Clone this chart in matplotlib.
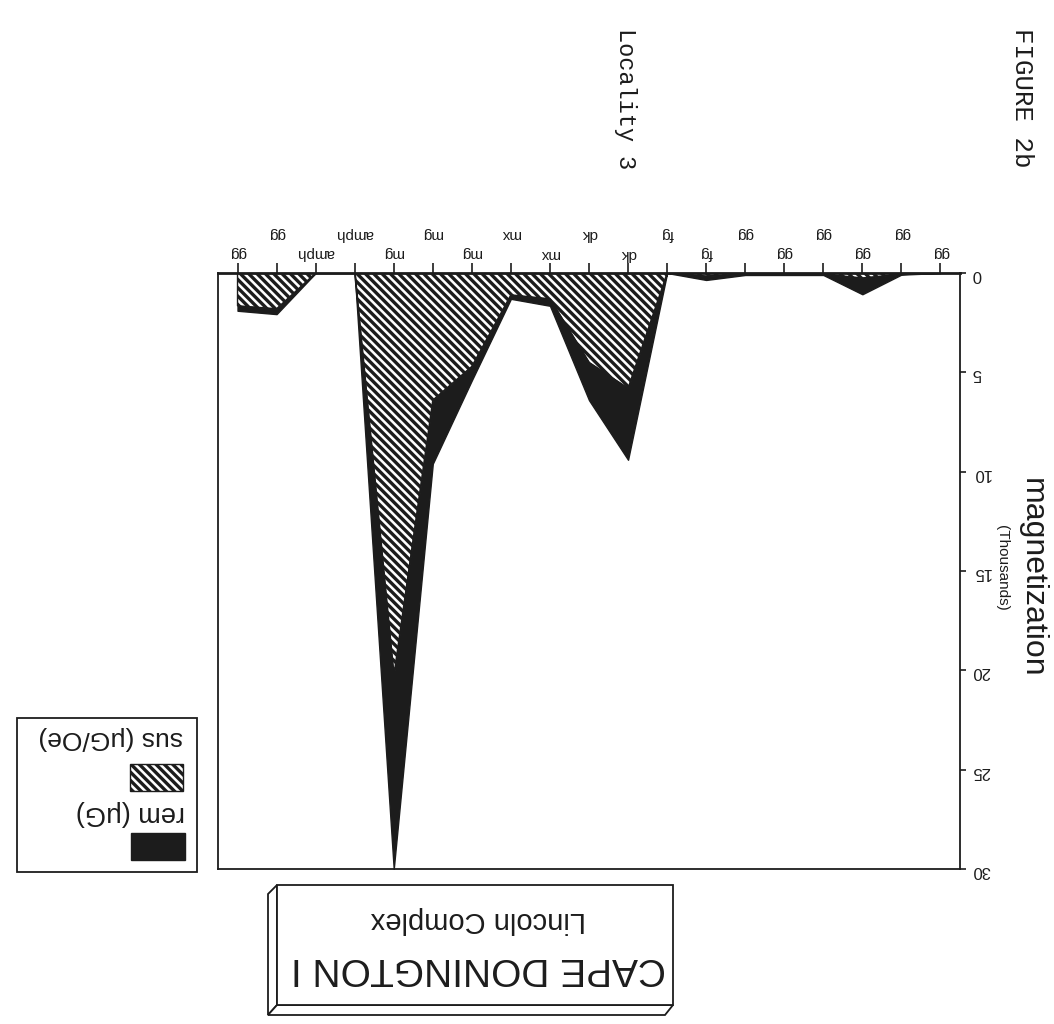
import matplotlib
matplotlib.use('Agg')
import matplotlib.pyplot as plt
from matplotlib.patches import Rectangle, Polygon
import numpy as np

# values, in the chart's own left-to-right order
# (the printout is upside down, so the axes are flipped below)
rock_types = ['gg', 'gg', 'gg', 'gg', 'gg', 'gg', 'fg', 'fg', 'dk', 'dk',
              'mx', 'mx', 'mg', 'mg', 'mg', 'amph', 'amph', 'gg', 'gg']
sus = [0, 0.05, 0.25, 0.05, 0.05, 0.05, 0.15, 0, 5.8, 4.5,
       1.3, 1.1, 4.7, 6.4, 20.3, 0, 0, 1.8, 1.65]          # μG/Oe, thousands
rem = [0, 0.03, 0.82, 0.05, 0.05, 0.05, 0.2, 0, 3.6, 1.9,
       0.35, 0.2, 0.7, 3.2, 9.7, 0, 0, 0.27, 0.25]         # μG, thousands
y_ticks = [0, 5, 10, 15, 20, 25, 30]

plt.rcParams['hatch.linewidth'] = 2.4
sans = ['Liberation Sans', 'DejaVu Sans']
mono = ['Liberation Mono', 'DejaVu Sans Mono']
ink = '#1c1c1c'
hatch = '\\' * 4

W, H = 1054, 1024
fig = plt.figure(figsize=(W / 100, H / 100), dpi=100)


def px_box(x0, y0, x1, y1):
    # pixel box measured from top-left -> figure fraction rect
    return [x0 / W, 1 - y1 / H, (x1 - x0) / W, (y1 - y0) / H]


ax = fig.add_axes(px_box(218, 273, 960, 869))
x = np.arange(len(rock_types))
sus = np.array(sus)
rem = np.array(rem)

# stacked areas: sus hatched next to zero, rem solid beyond it
ax.fill_between(x, 0, sus, facecolor='white', edgecolor=ink,
                hatch=hatch, linewidth=1.0)
ax.fill_between(x, sus, sus + rem, facecolor=ink, edgecolor=ink, linewidth=1.0)

ax.set_xlim(-0.5, len(x) - 0.5)
ax.set_ylim(0, 30)
ax.invert_xaxis()
ax.invert_yaxis()

ax.xaxis.tick_top()
ax.set_xticks(x, rock_types, rotation=180, fontsize=11, family=sans)
ax.tick_params(axis='x', direction='out', length=7, width=1.2, colors=ink)
for j, t in enumerate(ax.xaxis.get_major_ticks()):
    t.set_pad(2 if j % 2 == 0 else 16)

ax.yaxis.tick_right()
ax.set_yticks(y_ticks)
ax.set_yticklabels([str(v) for v in y_ticks], rotation=180, fontsize=12, family=sans)
ax.tick_params(axis='y', direction='out', length=4.5, width=1.2, pad=4, colors=ink)

for side in ['left', 'right', 'bottom']:
    ax.spines[side].set_linewidth(1.3)
    ax.spines[side].set_color(ink)
ax.spines['top'].set_linewidth(2.0)
ax.spines['top'].set_color(ink)

# overlay in pixel units for the page annotations
ov = fig.add_axes([0, 0, 1, 1], facecolor='none')
ov.set_xlim(0, W)
ov.set_ylim(H, 0)
ov.axis('off')

ov.text(1032, 578, 'magnetization', rotation=270, ha='center', va='center',
        fontsize=23, family=sans, color=ink)
ov.text(1002, 568, '(Thousands)', rotation=270, ha='center', va='center',
        fontsize=11, family=sans, color=ink)
ov.text(625, 28, 'Locality 3', rotation=270, ha='center', va='top',
        fontsize=17, family=mono, color=ink)
ov.text(1022, 28, 'FIGURE 2b', rotation=270, ha='center', va='top',
        fontsize=18.5, family=mono, color=ink)

# legend (drawn by hand, upside down like the rest)
ov.add_patch(Rectangle((17, 718), 180, 154, fill=False, lw=1.3, edgecolor=ink))
ov.add_patch(Rectangle((131, 833), 54, 27, facecolor=ink, edgecolor=ink))
ov.add_patch(Rectangle((130, 764), 53, 27, facecolor='white', edgecolor=ink,
                       hatch=hatch, lw=1.0))
ov.text(185, 813, 'rem (μG)', rotation=180, ha='right', va='center',
        fontsize=19.5, family=sans, color=ink)
ov.text(183, 738, 'sus (μG/Oe)', rotation=180, ha='right', va='center',
        fontsize=19, family=sans, color=ink)

# title plate with its 3d edge
ov.add_patch(Polygon([(277, 885), (268, 894), (268, 1015), (277, 1005)],
                     closed=True, facecolor='white', edgecolor=ink, lw=1.3))
ov.add_patch(Polygon([(277, 1005), (268, 1015), (665, 1015), (673, 1005)],
                     closed=True, facecolor='white', edgecolor=ink, lw=1.3))
ov.add_patch(Rectangle((277, 885), 396, 120, facecolor='white', edgecolor=ink, lw=1.3))
ov.text(478, 968, 'CAPE DONINGTON I', rotation=180, ha='center', va='center',
        fontsize=28, family=sans, color=ink)
ov.text(478, 920, 'Lincoln Complex', rotation=180, ha='center', va='center',
        fontsize=21, family=sans, color=ink)

fig.savefig('out.png', dpi=100)
